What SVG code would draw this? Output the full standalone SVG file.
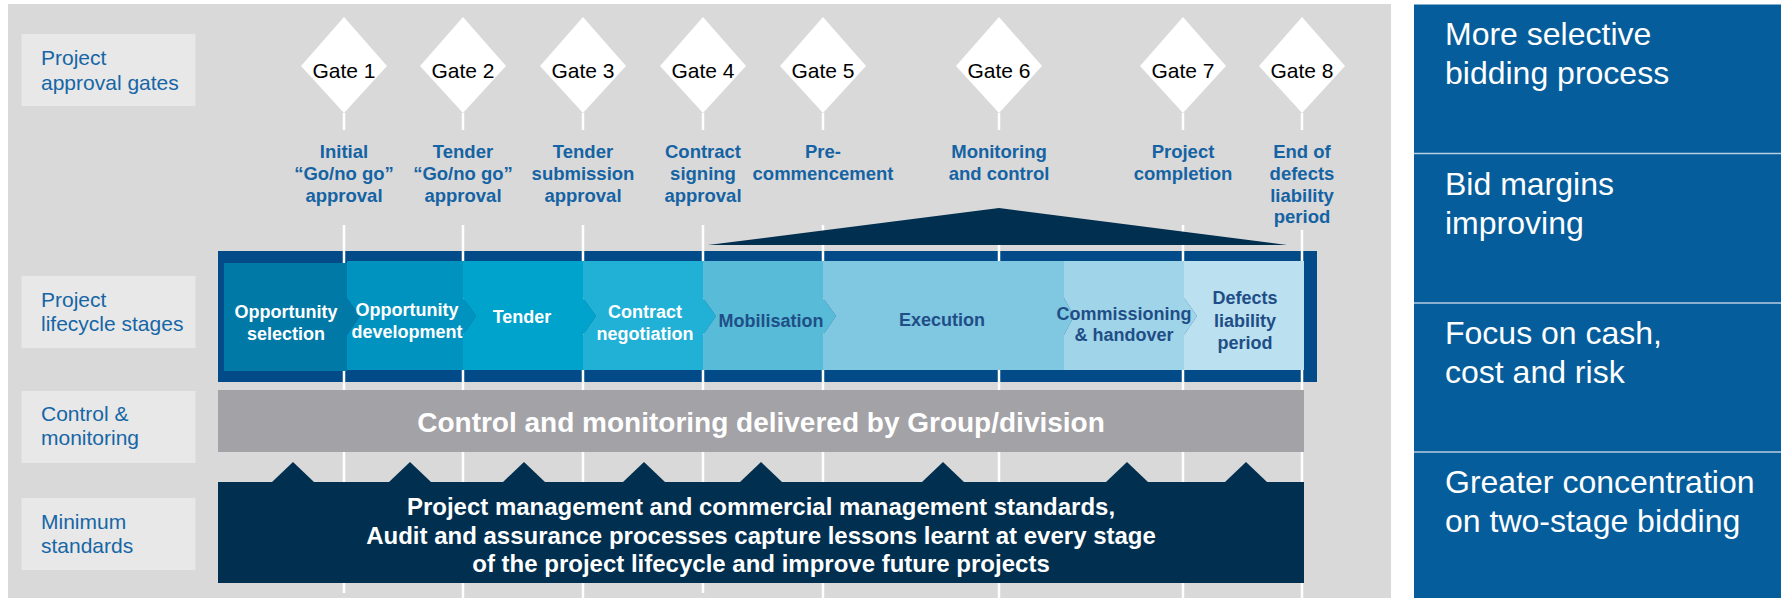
<svg xmlns="http://www.w3.org/2000/svg" width="1781" height="598" viewBox="0 0 1781 598">
<style>
text{font-family:"Liberation Sans",Arial,Helvetica,sans-serif}
.lbl{fill:#e8e8e8}
.lt{font-size:21px;fill:#1666a6}
.gd{fill:#ffffff}
.gt{font-size:21px;fill:#000000;text-anchor:middle}
.gl{font-size:18.5px;font-weight:bold;fill:#1563a3;text-anchor:middle}
.gline{stroke:#ffffff;stroke-width:2.5;fill:none}
.st{font-size:18px;font-weight:bold;text-anchor:middle}
.sw{fill:#ffffff}
.sd{fill:#1f4e87}
.navy{fill:#012f4f}
.rt{font-size:32px;fill:#ffffff}
.sep{stroke:#b7cde2;stroke-width:1.5}
</style>
<rect x="0" y="0" width="1781" height="598" fill="#ffffff"/>
<rect id="background" x="8" y="4" width="1383" height="594" fill="#d9d9d9"/>

<g id="row-labels">
  <g id="label-gates"><rect class="lbl" x="21.5" y="34" width="174" height="72"/>
    <text class="lt" x="41" y="65">Project</text><text class="lt" x="41" y="90">approval gates</text></g>
  <g id="label-lifecycle"><rect class="lbl" x="21.5" y="276" width="174" height="72"/>
    <text class="lt" x="41" y="307">Project</text><text class="lt" x="41" y="331">lifecycle stages</text></g>
  <g id="label-control"><rect class="lbl" x="21.5" y="391" width="174" height="72"/>
    <text class="lt" x="41" y="421">Control &amp;</text><text class="lt" x="41" y="445">monitoring</text></g>
  <g id="label-standards"><rect class="lbl" x="21.5" y="498" width="174" height="72"/>
    <text class="lt" x="41" y="529">Minimum</text><text class="lt" x="41" y="553">standards</text></g>
</g>

<g id="lifecycle-frame"><rect x="218" y="251" width="1099" height="131" fill="#034a88"/></g>

<g id="connectors">
  <path class="gline" d="M344 113V130M344 225V593"/>
  <path class="gline" d="M463 113V130M463 225V598"/>
  <path class="gline" d="M583 113V130M583 225V598"/>
  <path class="gline" d="M703 113V130M703 225V593"/>
  <path class="gline" d="M823 113V130M823 225V598"/>
  <path class="gline" d="M999 113V130M999 225V598"/>
  <path class="gline" d="M1183 113V130M1183 225V598"/>
  <path class="gline" d="M1302 113V130M1302 230V598"/>
</g>

<g id="gates">
  <g id="gate1"><polygon class="gd" points="344,17 387,66 344,113 301,66"/><text class="gt" x="344" y="78">Gate 1</text>
    <text class="gl" x="344" y="158">Initial</text><text class="gl" x="344" y="180">“Go/no go”</text><text class="gl" x="344" y="202">approval</text></g>
  <g id="gate2"><polygon class="gd" points="463,17 506,66 463,113 420,66"/><text class="gt" x="463" y="78">Gate 2</text>
    <text class="gl" x="463" y="158">Tender</text><text class="gl" x="463" y="180">“Go/no go”</text><text class="gl" x="463" y="202">approval</text></g>
  <g id="gate3"><polygon class="gd" points="583,17 626,66 583,113 540,66"/><text class="gt" x="583" y="78">Gate 3</text>
    <text class="gl" x="583" y="158">Tender</text><text class="gl" x="583" y="180">submission</text><text class="gl" x="583" y="202">approval</text></g>
  <g id="gate4"><polygon class="gd" points="703,17 746,66 703,113 660,66"/><text class="gt" x="703" y="78">Gate 4</text>
    <text class="gl" x="703" y="158">Contract</text><text class="gl" x="703" y="180">signing</text><text class="gl" x="703" y="202">approval</text></g>
  <g id="gate5"><polygon class="gd" points="823,17 866,66 823,113 780,66"/><text class="gt" x="823" y="78">Gate 5</text>
    <text class="gl" x="823" y="158">Pre-</text><text class="gl" x="823" y="180">commencement</text></g>
  <g id="gate6"><polygon class="gd" points="999,17 1042,66 999,113 956,66"/><text class="gt" x="999" y="78">Gate 6</text>
    <text class="gl" x="999" y="158">Monitoring</text><text class="gl" x="999" y="180">and control</text></g>
  <g id="gate7"><polygon class="gd" points="1183,17 1226,66 1183,113 1140,66"/><text class="gt" x="1183" y="78">Gate 7</text>
    <text class="gl" x="1183" y="158">Project</text><text class="gl" x="1183" y="180">completion</text></g>
  <g id="gate8"><polygon class="gd" points="1302,17 1345,66 1302,113 1259,66"/><text class="gt" x="1302" y="78">Gate 8</text>
    <text class="gl" x="1302" y="158">End of</text><text class="gl" x="1302" y="180">defects</text><text class="gl" x="1302" y="202">liability</text><text class="gl" x="1302" y="223">period</text></g>
</g>

<g id="monitoring-wedge"><polygon class="navy" points="708,245 999,208 1287,245"/></g>

<g id="stages">
  <g id="stage1"><polygon fill="#0079a6" points="224,263 347,263 347,298 360,316 347,335 347,371 224,371"/>
    <text class="st sw" x="286" y="318">Opportunity</text><text class="st sw" x="286" y="340">selection</text></g>
  <g id="stage2"><polygon fill="#0093c0" points="347,261 463,261 463,298 476,316 463,335 463,370 347,370 347,335 360,316 347,298"/>
    <text class="st sw" x="407" y="316">Opportunity</text><text class="st sw" x="407" y="338">development</text></g>
  <g id="stage3"><polygon fill="#00a3cb" points="463,261 583,261 583,298 596,316 583,335 583,370 463,370 463,335 476,316 463,298"/>
    <text class="st sw" x="522" y="323">Tender</text></g>
  <g id="stage4"><polygon fill="#21b1d6" points="583,261 703,261 703,298 716,316 703,335 703,370 583,370 583,335 596,316 583,298"/>
    <text class="st sw" x="645" y="318">Contract</text><text class="st sw" x="645" y="340">negotiation</text></g>
  <g id="stage5"><polygon fill="#58bcd9" points="703,261 823,261 823,298 836,316 823,335 823,370 703,370 703,335 716,316 703,298"/>
    <text class="st sd" x="771" y="327">Mobilisation</text></g>
  <g id="stage6"><polygon fill="#80c7e1" points="823,261 1064,261 1064,298 1074,316 1064,335 1064,370 823,370 823,335 836,316 823,298"/>
    <text class="st sd" x="942" y="326">Execution</text></g>
  <g id="stage7"><polygon fill="#a0d4e8" points="1064,261 1184,261 1184,298 1197,316 1184,335 1184,370 1064,370 1064,335 1074,316 1064,298"/>
    <text class="st sd" x="1124" y="320">Commissioning</text><text class="st sd" x="1124" y="341">&amp; handover</text></g>
  <g id="stage8"><polygon fill="#bbe0ef" points="1184,261 1304,261 1304,370 1184,370 1184,335 1197,316 1184,298"/>
    <text class="st sd" x="1245" y="304">Defects</text><text class="st sd" x="1245" y="327">liability</text><text class="st sd" x="1245" y="349">period</text></g>
</g>

<g id="control">
  <rect x="218" y="390" width="1086" height="62" fill="#a3a2a6"/>
  <text x="761" y="432" font-size="28" font-weight="bold" fill="#ffffff" text-anchor="middle">Control and monitoring delivered by Group/division</text>
</g>

<g id="standards">
  <rect class="navy" x="218" y="482" width="1086" height="101"/>
  <polygon class="navy" points="272,482 293,462 314,482"/>
  <polygon class="navy" points="389,482 410,462 431,482"/>
  <polygon class="navy" points="503,482 524,462 545,482"/>
  <polygon class="navy" points="623,482 644,462 665,482"/>
  <polygon class="navy" points="740,482 761,462 782,482"/>
  <polygon class="navy" points="922,482 943,462 964,482"/>
  <polygon class="navy" points="1106,482 1127,462 1148,482"/>
  <polygon class="navy" points="1225,482 1246,462 1267,482"/>
  <text x="761" y="515" font-size="24" font-weight="bold" fill="#ffffff" text-anchor="middle">Project management and commercial management standards,</text>
  <text x="761" y="543.5" font-size="24" font-weight="bold" fill="#ffffff" text-anchor="middle">Audit and assurance processes capture lessons learnt at every stage</text>
  <text x="761" y="572" font-size="24" font-weight="bold" fill="#ffffff" text-anchor="middle">of the project lifecycle and improve future projects</text>
</g>

<g id="benefits">
  <rect x="1414" y="4.5" width="367" height="593.5" fill="#065d9b"/>
  <line class="sep" x1="1414" y1="153.5" x2="1781" y2="153.5"/>
  <line class="sep" x1="1414" y1="303" x2="1781" y2="303"/>
  <line class="sep" x1="1414" y1="452" x2="1781" y2="452"/>
  <g id="benefit1"><text class="rt" x="1445" y="45">More selective</text><text class="rt" x="1445" y="83.5">bidding process</text></g>
  <g id="benefit2"><text class="rt" x="1445" y="195">Bid margins</text><text class="rt" x="1445" y="233.5">improving</text></g>
  <g id="benefit3"><text class="rt" x="1445" y="344">Focus on cash,</text><text class="rt" x="1445" y="382.5">cost and risk</text></g>
  <g id="benefit4"><text class="rt" x="1445" y="493">Greater concentration</text><text class="rt" x="1445" y="531.5">on two-stage bidding</text></g>
</g>
</svg>
